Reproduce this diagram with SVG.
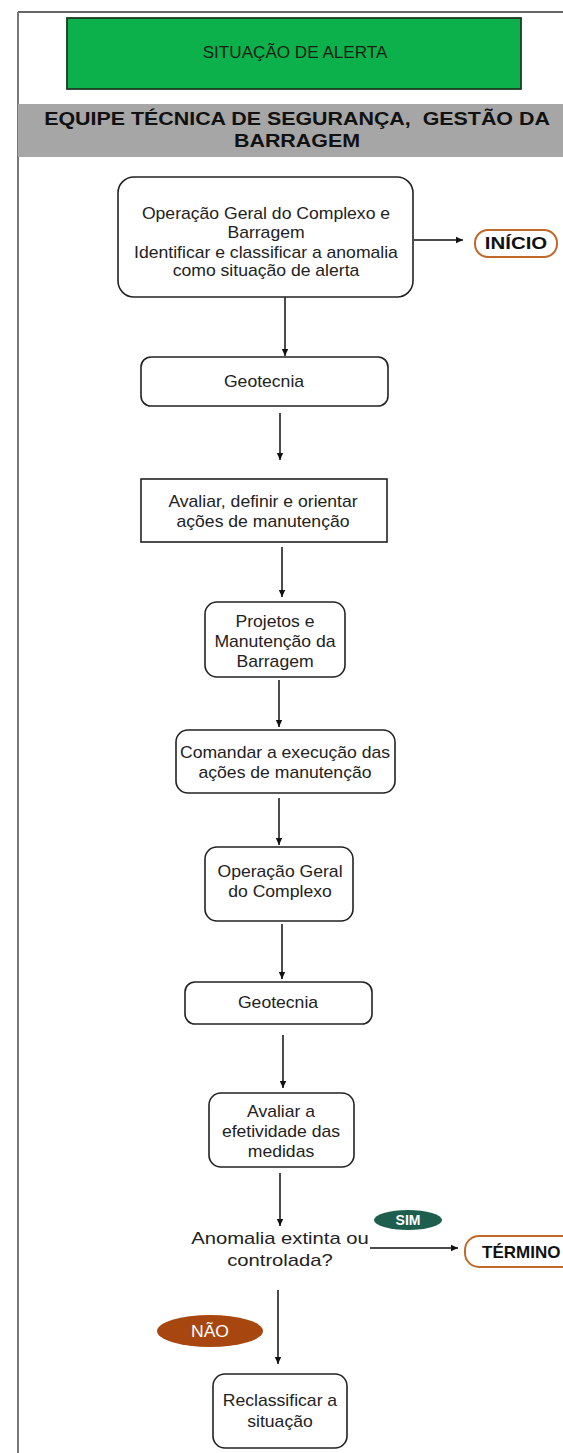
<svg xmlns="http://www.w3.org/2000/svg" width="563" height="1453" viewBox="0 0 563 1453">
<style>
.t{font-family:"Liberation Sans",Arial,sans-serif;font-size:16px;fill:#222;text-anchor:middle}
.b{font-family:"Liberation Sans",Arial,sans-serif;font-weight:bold;text-anchor:middle}
.box{fill:#fff;stroke:#222;stroke-width:1.6}
.c{stroke:#111;stroke-width:1.5;fill:none;marker-end:url(#ah)}
</style>
<defs>
<marker id="ah" markerWidth="8" markerHeight="8" refX="7" refY="4" orient="auto" markerUnits="userSpaceOnUse">
<path d="M0,0.8 L7,4 L0,7.2 Z" fill="#111"/>
</marker>
</defs>
<rect x="0" y="0" width="563" height="1453" fill="#fff"/>
<g id="frame">
<line x1="18" y1="12" x2="563" y2="12" stroke="#333" stroke-width="1.5"/>
<line x1="18" y1="12" x2="18" y2="1453" stroke="#777" stroke-width="2"/>
</g>
<g id="title">
<rect x="67" y="18" width="454" height="71" fill="#0DB14B" stroke="#1d3a22" stroke-width="1.8"/>
<g transform="translate(295 0) scale(1.07 1)"><text x="0" y="58" class="t" style="font-size:16px;fill:#142014">SITUAÇÃO DE ALERTA</text></g>
</g>
<g id="lane">
<rect x="18" y="104" width="545" height="53" fill="#A6A6A6"/>
<g transform="translate(297 0) scale(1.19 1)">
<text x="0" y="125" class="b" xml:space="preserve" style="font-size:18px;fill:#111;white-space:pre">EQUIPE TÉCNICA DE SEGURANÇA,  GESTÃO DA</text>
<text x="0" y="147" class="b" style="font-size:18px;fill:#111">BARRAGEM</text>
</g>
</g>
<g id="connectors">
<line class="c" x1="414" y1="240" x2="463" y2="240"/>
<line class="c" x1="285" y1="297" x2="285" y2="356"/>
<line class="c" x1="280" y1="413" x2="280" y2="460"/>
<line class="c" x1="282" y1="547" x2="282" y2="597"/>
<line class="c" x1="279" y1="680" x2="279" y2="727"/>
<line class="c" x1="279" y1="798" x2="279" y2="845"/>
<line class="c" x1="282" y1="924" x2="282" y2="979"/>
<line class="c" x1="283" y1="1035" x2="283" y2="1088"/>
<line class="c" x1="280" y1="1173" x2="280" y2="1226"/>
<line class="c" x1="370" y1="1248" x2="458" y2="1248"/>
<line class="c" x1="278" y1="1290" x2="278" y2="1364"/>
</g>
<g id="n1">
<rect class="box" x="118" y="177" width="295" height="120" rx="16"/>
<g transform="translate(266 0) scale(1.1 1)">
<text class="t" x="0" y="219">Operação Geral do Complexo e</text>
<text class="t" x="0" y="238">Barragem</text>
<text class="t" x="0" y="258">Identificar e classificar a anomalia</text>
<text class="t" x="0" y="276">como situação de alerta</text>
</g>
</g>
<g id="inicio">
<rect x="475" y="230" width="82" height="27" rx="13" fill="#fff" stroke="#C0692A" stroke-width="2"/>
<g transform="translate(516 0) scale(1.2 1)"><text class="b" x="0" y="249" style="font-size:17px;fill:#111">INÍCIO</text></g>
</g>
<g id="geo1">
<rect class="box" x="141" y="357" width="247" height="49" rx="10"/>
<g transform="translate(264 0) scale(1.1 1)"><text class="t" x="0" y="387">Geotecnia</text></g>
</g>
<g id="aval1">
<rect class="box" x="141" y="479" width="246" height="63"/>
<g transform="translate(263 0) scale(1.1 1)">
<text class="t" x="0" y="507">Avaliar, definir e orientar</text>
<text class="t" x="0" y="527">ações de manutenção</text>
</g>
</g>
<g id="proj">
<rect class="box" x="205" y="602" width="140" height="75" rx="12"/>
<g transform="translate(275 0) scale(1.1 1)">
<text class="t" x="0" y="627">Projetos e</text>
<text class="t" x="0" y="647">Manutenção da</text>
<text class="t" x="0" y="667">Barragem</text>
</g>
</g>
<g id="comandar">
<rect class="box" x="176" y="730" width="219" height="63" rx="12"/>
<g transform="translate(285 0) scale(1.1 1)">
<text class="t" x="0" y="758">Comandar a execução das</text>
<text class="t" x="0" y="778">ações de manutenção</text>
</g>
</g>
<g id="op">
<rect class="box" x="205" y="847" width="148" height="74" rx="12"/>
<g transform="translate(280 0) scale(1.1 1)">
<text class="t" x="0" y="877">Operação Geral</text>
<text class="t" x="0" y="897">do Complexo</text>
</g>
</g>
<g id="geo2">
<rect class="box" x="185" y="982" width="187" height="42" rx="10"/>
<g transform="translate(278 0) scale(1.1 1)"><text class="t" x="0" y="1008">Geotecnia</text></g>
</g>
<g id="aval2">
<rect class="box" x="209" y="1093" width="145" height="74" rx="12"/>
<g transform="translate(281 0) scale(1.1 1)">
<text class="t" x="0" y="1117">Avaliar a</text>
<text class="t" x="0" y="1137">efetividade das</text>
<text class="t" x="0" y="1157">medidas</text>
</g>
</g>
<g id="decision">
<g transform="translate(280 0) scale(1.19 1)">
<text class="t" x="0" y="1244" style="font-size:17px">Anomalia extinta ou</text>
<text class="t" x="0" y="1266" style="font-size:17px">controlada?</text>
</g>
</g>
<g id="sim">
<ellipse cx="408" cy="1220" rx="34" ry="10" fill="#1E5E4E"/>
<text class="b" x="408" y="1225" style="font-size:14px;fill:#fff">SIM</text>
</g>
<g id="termino">
<rect x="465" y="1236" width="120" height="31" rx="14" fill="#fff" stroke="#C0692A" stroke-width="2"/>
<text class="b" x="482" y="1258" style="font-size:17px;fill:#111;text-anchor:start">TÉRMINO</text>
</g>
<g id="nao">
<ellipse cx="210" cy="1331" rx="53" ry="16" fill="#A8460F"/>
<g transform="translate(210 0) scale(1.1 1)"><text class="t" x="0" y="1337" style="font-size:16px;fill:#fff">NÃO</text></g>
</g>
<g id="reclass">
<rect class="box" x="213" y="1374" width="134" height="74" rx="12"/>
<g transform="translate(280 0) scale(1.1 1)">
<text class="t" x="0" y="1406">Reclassificar a</text>
<text class="t" x="0" y="1427">situação</text>
</g>
</g>
</svg>
